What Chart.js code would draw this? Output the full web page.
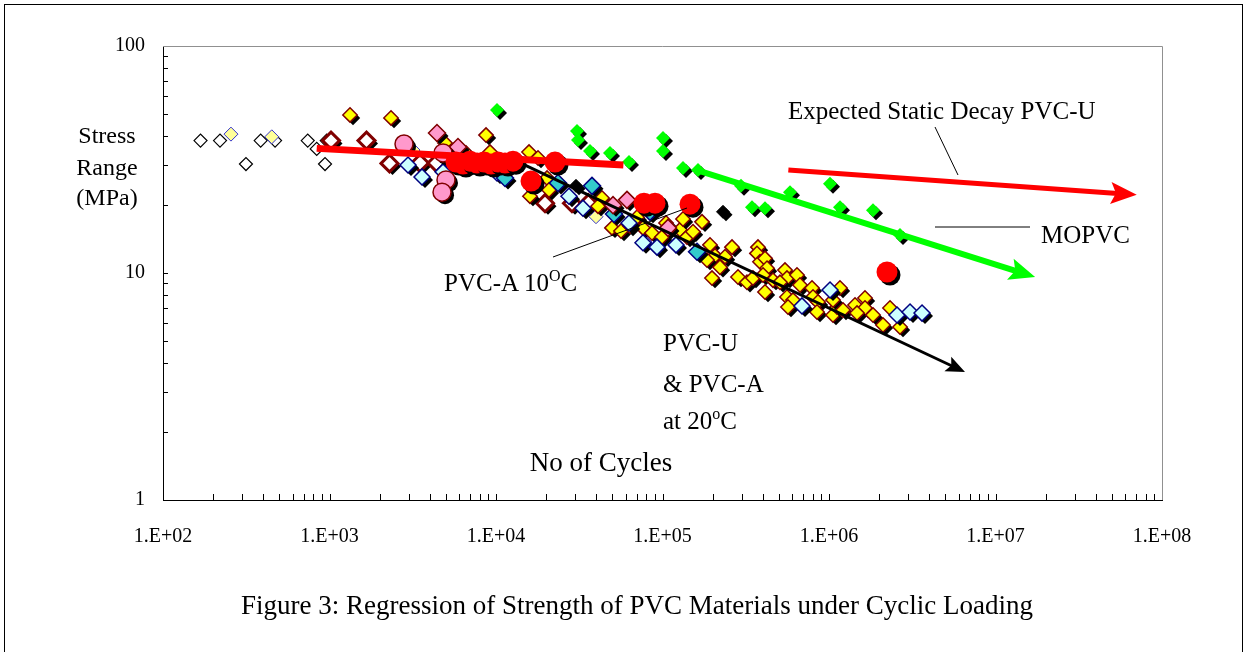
<!DOCTYPE html>
<html>
<head>
<meta charset="utf-8">
<title>Regression of Strength of PVC Materials under Cyclic Loading</title>
<script src="https://cdn.jsdelivr.net/npm/chart.js@4.4.1/dist/chart.umd.min.js"></script>
<style>
  body { margin: 0; background: #fff; font-family: "Liberation Serif", "Times New Roman", serif; }
  #wrap { position: relative; width: 1246px; height: 652px; overflow: hidden; }
  #frame { position: absolute; left: 4px; top: 4px; width: 1237px; height: 700px; border: 1px solid #000; }
  canvas { position: absolute; left: 0; top: 0; }
  .lbl { position: absolute; font-size: 25px; line-height: 1; white-space: nowrap; color: #000; }
  .mid { transform: translateX(-50%); text-align: center; }
  sup { font-size: 64%; vertical-align: 0.62em; line-height: 0; }
</style>
</head>
<body>
<div id="wrap">
  <div id="frame"></div>
  <canvas id="chart" width="1246" height="652"></canvas>
  <div class="lbl mid" style="left:107px;top:123px;font-size:24px">Stress</div>
  <div class="lbl mid" style="left:107px;top:155px;font-size:24px">Range</div>
  <div class="lbl mid" style="left:107px;top:185px;font-size:24px">(MPa)</div>
  <div class="lbl" style="left:788px;top:98px">Expected Static Decay PVC-U</div>
  <div class="lbl" style="left:1041px;top:222px">MOPVC</div>
  <div class="lbl" style="left:444px;top:270px">PVC-A 10<sup>O</sup>C</div>
  <div class="lbl" style="left:663px;top:330px">PVC-U</div>
  <div class="lbl" style="left:663px;top:371px">&amp; PVC-A</div>
  <div class="lbl" style="left:663px;top:408px">at 20<sup>o</sup>C</div>
  <div class="lbl mid" style="left:601px;top:449px;font-size:27px">No of Cycles</div>
  <div class="lbl mid" style="left:637px;top:592px;font-size:27px">Figure 3: Regression of Strength of PVC Materials under Cyclic Loading</div>
</div>
<script>
// x = number of cycles, y = stress range (MPa)
const xTicks = [1e2, 1e3, 1e4, 1e5, 1e6, 1e7, 1e8];
const yTicks = [1, 10, 100];

// open black diamonds
const openX = [168, 220, 315, 386, 471, 740, 838, 940, 962];
const openY = [38.3, 38.3, 30.2, 38.3, 38.3, 38.3, 35.2, 30.2, 38.3];
// pale yellow diamonds
const paleX = [256, 450, 3174, 39870, 78500];
const paleY = [40.9, 39.8, 34.8, 17.7, 13.7];
// white diamonds with dark red edge
const darkOpenX = [1021, 1668, 2293, 3495, 4390, 19700, 28600, 35850];
const darkOpenY = [38.3, 38.3, 30.4, 30.5, 30.5, 20.3, 20.3, 20.3];
// yellow diamonds (PVC-U / PVC-A at 20C)
const yellowX = [1328, 2341, 8710, 4940, 6604, 15790, 17880, 20250, 20810, 16000,
  43300, 49740, 56340, 70290, 76350, 86480, 99300, 105000, 127400, 132800,
  140300, 152500, 172700, 192900, 206700, 185100, 221500, 237400, 198300, 261500,
  284100, 321700, 349500, 374600, 369400, 385100, 412700, 424300, 401500, 412700,
  461000, 544100, 559300, 507700, 642300, 669500, 559300, 607800, 567200, 790600,
  801600, 858900, 847200, 1057000, 1117000, 1057000, 1164000, 1214000, 1433000, 1645000,
  1645000, 1473000, 1838000, 2110000, 2325000, 2670000, 63800, 41000, 9204];
const yellowY = [49.7, 48.2, 40.5, 37.4, 33.8, 34.1, 32.1, 26.2, 23.2, 21.8,
  21.4, 15.8, 15.3, 17.6, 15.8, 15.0, 14.4, 16.6, 15.5, 17.3,
  14.4, 15.2, 16.8, 13.3, 11.9, 11.4, 10.6, 11.8, 9.5, 13.0,
  9.6, 9.1, 9.5, 13.0, 12.2, 11.2, 11.6, 10.5, 9.8, 8.25,
  9.3, 10.3, 9.5, 9.1, 9.8, 8.85, 7.84, 7.6, 7.08, 8.59,
  7.84, 7.45, 6.73, 6.53, 7.08, 7.6, 8.59, 6.87, 7.23, 7.76,
  7.01, 6.66, 6.53, 5.9, 7.01, 5.78, 16.1, 19.7, 34.1];
// light cyan diamonds
const cyanX = [2962, 3594, 4806, 10140, 27440, 33300, 62920, 76350, 92680, 120500, 688100, 1014000, 2562000, 3066000, 3620000];
const cyanY = [29.9, 26.5, 27.9, 27.6, 21.8, 19.3, 16.6, 13.6, 13.0, 13.3, 7.16, 8.42, 6.53, 6.73, 6.66];
// teal diamonds
const tealX = [11330, 23570, 37720, 51130, 84120, 161200];
const tealY = [26.2, 24.9, 24.2, 18.2, 18.6, 12.4];
// pink diamonds and pink circles
const pinkX = [4421, 5912, 50440, 61200, 107900];
const pinkY = [41.4, 35.9, 19.9, 21.0, 15.8];
const pinkDotX = [2802, 4806, 5008, 4740];
const pinkDotY = [37.0, 33.8, 25.7, 22.7];
// red circles (PVC-A at 10C)
const redDotX = [5751, 6335, 6980, 7689, 8473, 9333, 10280, 11330, 12650, 16230, 22610, 77410, 90150, 146300, 2230000];
const redDotY = [30.8, 30.2, 31.1, 30.5, 30.8, 30.2, 30.8, 30.5, 31.1, 25.4, 30.8, 20.3, 20.3, 20.1, 10.1];
// green diamonds (MOPVC)
const greenX = [10140, 30650, 31080, 36690, 48380, 62920, 100700, 100700, 132800, 163400, 296100, 344700, 412700, 583100, 1014000, 1164000, 1838000, 2670000];
const greenY = [52.2, 42.2, 38.5, 34.5, 33.8, 30.8, 39.3, 34.5, 29.0, 28.4, 24.2, 19.5, 19.3, 22.7, 24.7, 19.5, 18.9, 14.7];
// black diamonds
const blackX = [30230, 230900];
const blackY = [24.2, 18.6];

// regression lines
const staticX = [5.7e5, 7.05e7];
const staticY = [28.4, 22.1];
const mopvcX = [1.68e5, 1.73e7];
const mopvcY = [28.1, 9.6];
const pvcuX = [14930, 6.56e6];
const pvcuY = [29.9, 3.66];
const pvca10X = [838, 58200];
const pvca10Y = [35.4, 29.9];

// annotation leader lines, canvas pixels
const leaders = [
  [935, 127, 958, 175],
  [935, 227, 1030, 227],
  [553, 257, 687, 208]
];

const FONT = '"Liberation Serif", "Times New Roman", serif';
const zip = (xs, ys) => xs.map((x, i) => ({x: x, y: ys[i]}));

function marks(xs, ys, style, r, fill, edge, bw, shadow) {
  return {
    data: zip(xs, ys),
    pointStyle: style,
    pointRadius: r,
    pointHoverRadius: r,
    pointBackgroundColor: fill,
    pointBorderColor: edge,
    pointBorderWidth: bw,
    shadow: shadow
  };
}

function line(xs, ys, color, width, arrow) {
  return {
    data: zip(xs, ys),
    showLine: true,
    borderColor: color,
    borderWidth: width,
    pointRadius: 0,
    pointHoverRadius: 0,
    arrow: arrow
  };
}

// first dataset is drawn on top
const datasets = [
  line(pvca10X, pvca10Y, '#ff0000', 7, null),
  line(pvcuX, pvcuY, '#000000', 3, {len: 19, half: 8}),
  line(mopvcX, mopvcY, '#00ff00', 6, {len: 26, half: 11}),
  line(staticX, staticY, '#ff0000', 5, {len: 26, half: 11}),
  marks(redDotX, redDotY, 'circle', 10.5, '#ff0000', '#ff0000', 0, 3),
  marks(blackX, blackY, 'rectRot', 6.5, '#000000', '#000000', 1, 3),
  marks(greenX, greenY, 'rectRot', 7, '#00ff00', '#00ff00', 0, 3),
  marks(pinkDotX, pinkDotY, 'circle', 9, '#ff99cc', '#800000', 1.5, 3),
  marks(pinkX, pinkY, 'rectRot', 8.5, '#ff99cc', '#800000', 1.5, 3),
  marks(tealX, tealY, 'rectRot', 8.5, '#33cccc', '#000080', 1.5, 3),
  marks(cyanX, cyanY, 'rectRot', 8, '#ccffff', '#000080', 1.5, 3),
  marks(yellowX, yellowY, 'rectRot', 7.2, '#ffff00', '#800000', 1.5, 3),
  marks(paleX, paleY, 'rectRot', 7, '#ffff99', '#3333cc', 1, 0),
  marks(darkOpenX, darkOpenY, 'rectRot', 8.5, '#ffffff', '#800000', 3, 3),
  marks(openX, openY, 'rectRot', 6.5, '#ffffff', '#000000', 1.2, 0)
];

const framePlugin = {
  id: 'frameTicks',
  beforeDatasetsDraw(chart) {
    const {ctx, chartArea: a, scales: {x, y}} = chart;
    ctx.save();
    ctx.lineWidth = 1;
    ctx.strokeStyle = '#909090';
    ctx.beginPath();
    ctx.moveTo(a.left, a.top + 0.5);
    ctx.lineTo(a.right + 0.5, a.top + 0.5);
    ctx.lineTo(a.right + 0.5, a.bottom);
    ctx.stroke();
    ctx.strokeStyle = '#000';
    ctx.beginPath();
    for (let e = 2; e < 8; e++) {
      for (let m = 1; m < 10; m++) {
        const px = Math.round(x.getPixelForValue(m * Math.pow(10, e))) + 0.5;
        ctx.moveTo(px, a.bottom);
        ctx.lineTo(px, a.bottom - 6);
      }
    }
    for (let e = 0; e < 2; e++) {
      for (let m = 1; m < 10; m++) {
        const py = Math.round(y.getPixelForValue(m * Math.pow(10, e))) + 0.5;
        ctx.moveTo(a.left, py);
        ctx.lineTo(a.left + 5, py);
      }
    }
    ctx.stroke();
    ctx.restore();
  }
};

// black drop shadow under each marker fill; the outline itself casts none
const shadowPlugin = {
  id: 'dropShadow',
  beforeDatasetDraw(chart, args) {
    const ds = chart.data.datasets[args.index];
    if (!ds.shadow) return;
    const ctx = chart.ctx;
    ctx.save();
    ctx.shadowColor = '#000';
    ctx.shadowBlur = 0;
    ctx.shadowOffsetX = ds.shadow;
    ctx.shadowOffsetY = ds.shadow;
    const stroke = CanvasRenderingContext2D.prototype.stroke;
    ctx.stroke = function () {
      const c = this.shadowColor;
      this.shadowColor = 'rgba(0,0,0,0)';
      stroke.apply(this, arguments);
      this.shadowColor = c;
    };
  },
  afterDatasetDraw(chart, args) {
    if (!chart.data.datasets[args.index].shadow) return;
    delete chart.ctx.stroke;
    chart.ctx.restore();
  }
};

// pull the line back from its last point, then put an arrow head there
const arrowPlugin = {
  id: 'arrowHeads',
  beforeDatasetDraw(chart, args) {
    const ds = chart.data.datasets[args.index];
    if (!ds.arrow) return;
    const pts = args.meta.data;
    const a = pts[pts.length - 2], b = pts[pts.length - 1];
    const ang = Math.atan2(b.y - a.y, b.x - a.x);
    args.meta._tip = {x: b.x, y: b.y, ang: ang};
    b.x -= Math.cos(ang) * ds.arrow.len * 0.6;
    b.y -= Math.sin(ang) * ds.arrow.len * 0.6;
  },
  afterDatasetDraw(chart, args) {
    const ds = chart.data.datasets[args.index];
    const t = args.meta._tip;
    if (!ds.arrow || !t) return;
    const pts = args.meta.data;
    pts[pts.length - 1].x = t.x;
    pts[pts.length - 1].y = t.y;
    const c = Math.cos(t.ang), s = Math.sin(t.ang);
    const {len, half} = ds.arrow;
    const ctx = chart.ctx;
    ctx.save();
    ctx.fillStyle = ds.borderColor;
    ctx.beginPath();
    ctx.moveTo(t.x, t.y);
    ctx.lineTo(t.x - len * c + half * s, t.y - len * s - half * c);
    ctx.lineTo(t.x - len * 0.8 * c, t.y - len * 0.8 * s);
    ctx.lineTo(t.x - len * c - half * s, t.y - len * s + half * c);
    ctx.closePath();
    ctx.fill();
    ctx.restore();
  }
};

const leaderPlugin = {
  id: 'leaders',
  afterDraw(chart) {
    const ctx = chart.ctx;
    ctx.save();
    ctx.strokeStyle = '#000';
    ctx.lineWidth = 1;
    ctx.beginPath();
    leaders.forEach(l => { ctx.moveTo(l[0], l[1]); ctx.lineTo(l[2], l[3]); });
    ctx.stroke();
    ctx.restore();
  }
};

new Chart(document.getElementById('chart'), {
  type: 'scatter',
  data: {datasets: datasets},
  options: {
    responsive: false,
    animation: false,
    events: [],
    layout: {padding: {left: 0, top: 46, right: 84, bottom: 92}},
    plugins: {legend: {display: false}, tooltip: {enabled: false}},
    scales: {
      x: {
        type: 'logarithmic',
        min: 1e2,
        max: 1e8,
        afterBuildTicks: s => { s.ticks = xTicks.map(v => ({value: v})); },
        afterFit: s => { s.height = 60; },
        grid: {display: false, drawTicks: false},
        border: {display: true, color: '#000', width: 1},
        ticks: {
          color: '#000',
          font: {family: FONT, size: 20},
          padding: 25,
          maxRotation: 0,
          autoSkip: false,
          callback: v => '1.E+' + String(Math.round(Math.log10(v))).padStart(2, '0')
        }
      },
      y: {
        type: 'logarithmic',
        min: 1,
        max: 100,
        afterBuildTicks: s => { s.ticks = yTicks.map(v => ({value: v})); },
        afterFit: s => { s.width = 163; },
        grid: {display: false, drawTicks: false},
        border: {display: true, color: '#000', width: 1},
        ticks: {
          color: '#000',
          font: {family: FONT, size: 20},
          padding: 18,
          autoSkip: false,
          callback: v => String(v)
        }
      }
    }
  },
  plugins: [framePlugin, shadowPlugin, arrowPlugin, leaderPlugin]
});
</script>
</body>
</html>
